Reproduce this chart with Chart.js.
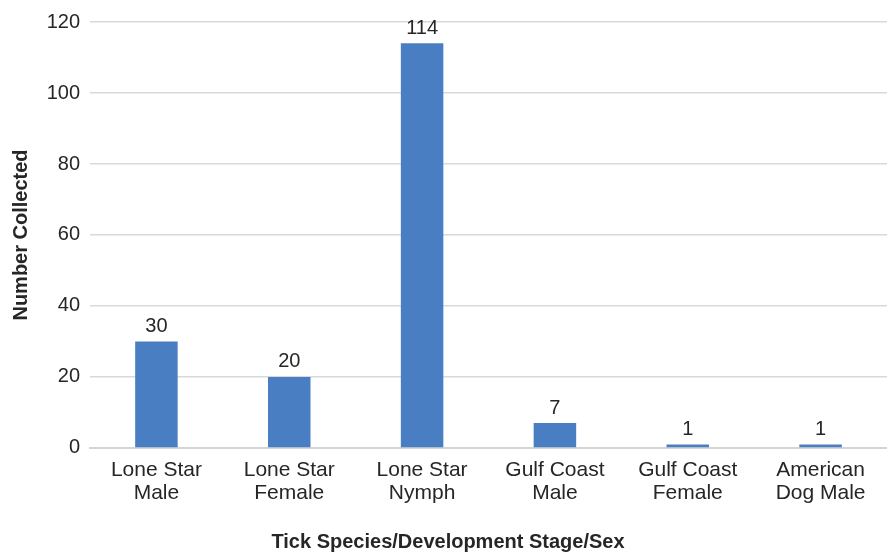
<!DOCTYPE html>
<html>
<head>
<meta charset="utf-8">
<script src="https://cdn.jsdelivr.net/npm/chart.js@4/dist/chart.umd.min.js"></script>
<style>
  html, body { margin: 0; padding: 0; background: #ffffff; }
  #wrap { width: 887px; height: 558px; }
</style>
</head>
<body>
<div id="wrap"><canvas id="c" width="887" height="558"></canvas></div>
<script>
const categories = [
  ["Lone Star", "Male"],
  ["Lone Star", "Female"],
  ["Lone Star", "Nymph"],
  ["Gulf Coast", "Male"],
  ["Gulf Coast", "Female"],
  ["American", "Dog Male"]
];
const counts = [30, 20, 114, 7, 1, 1];
const yTicks = [0, 20, 40, 60, 80, 100, 120];

const FONT = "'Liberation Sans', Arial, sans-serif";
const TEXT = "#262626";

// Writes each bar's value just above it
const valueLabels = {
  id: "valueLabels",
  afterDatasetsDraw(chart) {
    const ctx = chart.ctx;
    const meta = chart.getDatasetMeta(0);
    ctx.save();
    ctx.font = "20px " + FONT;
    ctx.fillStyle = TEXT;
    ctx.textAlign = "center";
    ctx.textBaseline = "bottom";
    meta.data.forEach((bar, i) => {
      ctx.fillText(String(counts[i]), bar.x, bar.y - 5);
    });
    ctx.restore();
  }
};

new Chart(document.getElementById("c"), {
  type: "bar",
  data: {
    labels: categories,
    datasets: [{
      data: counts,
      backgroundColor: "#4a7ec2",
      borderWidth: 0,
      barPercentage: 0.32,
      categoryPercentage: 1.0
    }]
  },
  options: {
    responsive: false,
    animation: false,
    devicePixelRatio: 1,
    layout: { padding: { top: 13, right: 0, bottom: 4, left: 9 } },
    plugins: {
      legend: { display: false },
      tooltip: { enabled: false },
      title: {
        display: true,
        position: "bottom",
        text: "Tick Species/Development Stage/Sex",
        color: TEXT,
        font: { family: FONT, size: 20, weight: "bold" },
        padding: { top: 15, bottom: 0 }
      }
    },
    scales: {
      x: {
        grid: { display: false, drawTicks: false },
        border: { display: true, color: "#d4d4d4", width: 2 },
        ticks: {
          color: TEXT,
          font: { family: FONT, size: 21, lineHeight: 1.12 },
          padding: 10,
          maxRotation: 0,
          autoSkip: false
        }
      },
      y: {
        min: 0,
        max: 120,
        afterBuildTicks(scale) {
          scale.ticks = yTicks.map(v => ({ value: v }));
        },
        afterFit(scale) { scale.width = 81; },
        grid: { color: "#d9d9d9", lineWidth: 1.5, drawTicks: false },
        border: { display: false },
        ticks: {
          color: TEXT,
          font: { family: FONT, size: 20 },
          padding: 10
        },
        title: {
          display: true,
          text: "Number Collected",
          color: TEXT,
          font: { family: FONT, size: 20, weight: "bold" },
          padding: { top: 0, bottom: 0 }
        }
      }
    }
  },
  plugins: [valueLabels]
});
</script>
</body>
</html>
